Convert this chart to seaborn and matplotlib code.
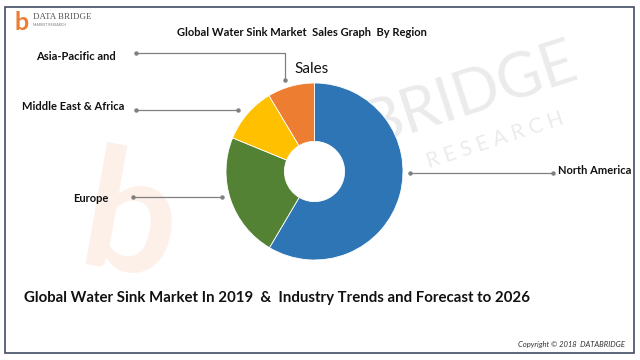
import matplotlib
matplotlib.use("Agg")
import matplotlib.pyplot as plt
import seaborn as sns
from matplotlib.patches import Rectangle

# ============================================================================
# DATA
# ============================================================================
regions = ["North America", "Europe", "Middle East & Africa", "Asia-Pacific and"]
shares = [58.5, 22.7, 10.2, 8.6]
colors = ["#2E75B6", "#548235", "#FFC000", "#ED7D31"]

title = "Global Water Sink Market  Sales Graph  By Region"
series_name = "Sales"
footer = "Global Water Sink Market In 2019  &  Industry Trends and Forecast to 2026"
copyright_txt = "Copyright \u00a9 2018  DATABRIDGE"

sns.set_theme(style="white")
plt.rcParams['font.family'] = ['Lato', 'DejaVu Sans']

fig = plt.figure(figsize=(6.4, 3.6), dpi=100)

# overlay axes in pixel coordinates
bg = fig.add_axes([0, 0, 1, 1])
bg.set_xlim(0, 640)
bg.set_ylim(360, 0)
bg.axis('off')

# frame
bg.add_patch(Rectangle((5, 7), 629, 346, fill=False, ec="#3F4E63", lw=1.2))

# watermark
bg.text(470, 95, "BRIDGE", fontsize=44, color="#EBEBEB", rotation=18,
        ha='center', va='center', zorder=0)
bg.text(495, 140, "R E S E A R C H", fontsize=15, color="#EBEBEB", rotation=18,
        ha='center', va='center', zorder=0)
bg.text(130, 225, "b", fontsize=120, color="#FDF0E9", fontweight='bold',
        ha='center', va='center', rotation=-10, zorder=0)

# logo
bg.text(22, 23, "b", fontsize=18, color="#ED7D31", fontweight='bold', ha='center', va='center')
bg.text(33, 17, "DATA BRIDGE", fontsize=6.5, color="#555555", ha='left', va='center',
        family=['Liberation Serif'])
bg.text(33, 25, "MARKET RESEARCH", fontsize=2.5, color="#777777", ha='left', va='center')

# titles
bg.text(302, 32, title, fontsize=8, fontweight='bold', ha='center', va='center', color="#111111")
bg.text(312, 69, series_name, fontsize=11, ha='center', va='center', color="#111111")
bg.text(277, 298, footer, fontsize=10.8, fontweight='bold', ha='center', va='center', color="#111111")
bg.text(625, 344, copyright_txt, fontsize=5.5, style='italic', ha='right', va='center', color="#333333")

# leader lines
lc = "#808080"
leaders = [
    ([553, 410], [173, 173], (558, 171), 'left'),
    ([133, 222], [197, 197], (108, 198), 'right'),
    ([136, 238], [110, 110], (124, 106), 'right'),
    ([136, 285, 285], [53, 53, 80], (116, 56), 'right'),
]
for (xs, ys, (tx, ty), ha), name in zip(leaders, regions):
    bg.plot(xs, ys, color=lc, lw=0.9)
    bg.plot([xs[0], xs[-1]], [ys[0], ys[-1]], 'o', color=lc, ms=2.2)
    bg.text(tx, ty, name, fontsize=8, fontweight='bold', ha=ha, va='center', color="#111111")

# donut
cx, cy, r = 314.5, 171.5, 88.5
ax = fig.add_axes([(cx - r) / 640, (360 - cy - r) / 360, 2 * r / 640, 2 * r / 360])
ax.pie(shares, colors=colors, startangle=90, counterclock=False, radius=1,
       wedgeprops=dict(width=0.66, edgecolor='white', linewidth=0.6))
ax.set_xlim(-1, 1)
ax.set_ylim(-1, 1)
ax.set_aspect('auto')
ax.axis('off')

fig.savefig("out.png", dpi=100)
